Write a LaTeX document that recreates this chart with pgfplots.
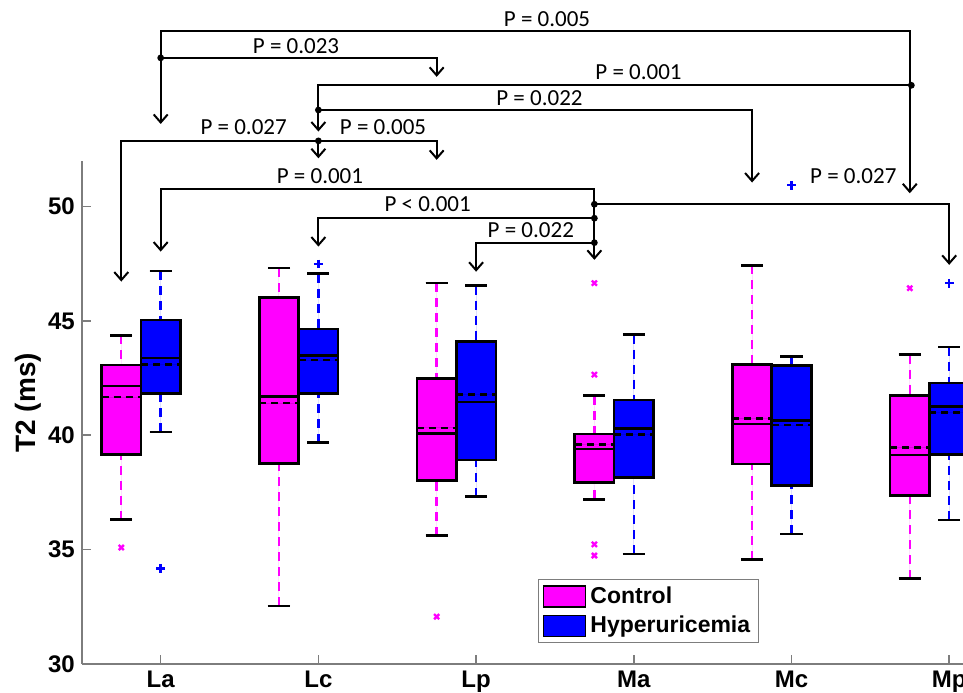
\documentclass[border=0pt]{standalone}
\usepackage{pgfplots}
\pgfplotsset{compat=1.18}
\usepgfplotslibrary{statistics}
\usetikzlibrary{arrows.meta}
\usepackage{fontspec}
\setmainfont{Liberation Sans}
\newfontfamily\pfont{Carlito}

\definecolor{ctrl}{RGB}{255,0,255}
\definecolor{hyper}{RGB}{0,0,255}
\definecolor{axgray}{RGB}{125,125,125}

\pgfplotsset{
  boxplot/draw direction=y,
  boxplot/box extend=0.25,
  boxplot/whisker extend=0.14,
  boxplot/every box/.style={draw=black,solid,line width=1.3pt},
  boxplot/every median/.style={draw=black,solid,line width=1.2pt},
  boxplot/draw/lower whisker/.code={%
    \draw[/pgfplots/boxplot/every whisker/.try]
      (boxplot cs:\pgfplotsboxplotvalue{lower whisker}) -- (boxplot cs:\pgfplotsboxplotvalue{lower quartile});
    \draw[black,solid,line width=1.2pt]
      (boxplot whisker cs:\pgfplotsboxplotvalue{lower whisker},0) -- (boxplot whisker cs:\pgfplotsboxplotvalue{lower whisker},1);
  },
  boxplot/draw/upper whisker/.code={%
    \draw[/pgfplots/boxplot/every whisker/.try]
      (boxplot cs:\pgfplotsboxplotvalue{upper whisker}) -- (boxplot cs:\pgfplotsboxplotvalue{upper quartile});
    \draw[black,solid,line width=1.2pt]
      (boxplot whisker cs:\pgfplotsboxplotvalue{upper whisker},0) -- (boxplot whisker cs:\pgfplotsboxplotvalue{upper whisker},1);
  },
  boxplot/draw/average/.code={%
    \draw[black,line width=1.2pt,dash pattern=on 3.5pt off 2.5pt]
      (boxplot box cs:\pgfplotsboxplotvalue{average},0) -- (boxplot box cs:\pgfplotsboxplotvalue{average},1);
  },
  cbox/.style={forget plot, fill=ctrl, draw=black,
    boxplot prepared={every whisker/.style={draw=ctrl,line width=1.2pt,dash pattern=on 4.5pt off 3pt}, #1}},
  hbox/.style={forget plot, fill=hyper, draw=black,
    boxplot prepared={every whisker/.style={draw=hyper,line width=1.2pt,dash pattern=on 4.5pt off 3pt}, #1}},
}

\tikzset{
  ann/.style={line width=1pt, -{Straight Barb[length=4pt,width=7pt]}},
  pv/.style={font=\pfont\fontsize{11.5}{13}\selectfont, inner sep=0pt},
  dot/.style={radius=1.7pt},
}

\begin{document}
\begin{tikzpicture}
\begin{axis}[
  scale only axis,
  width=473.1pt, height=251.6pt,
  xmin=0.5, xmax=6.5, ymin=30, ymax=52,
  clip=false,
  axis x line*=bottom, axis y line*=left,
  axis line style={axgray, line width=0.8pt},
  tick style={axgray, line width=0.8pt},
  tick align=inside,
  major tick length=4.5pt,
  xtick={1,2,3,4,5,6},
  xticklabels={La,Lc,Lp,Ma,Mc,Mp},
  ytick={30,35,40,45,50},
  /pgf/number format/assume math mode=true,
  ticklabel style={font=\bfseries\fontsize{12}{14}\selectfont},
  ylabel={T2 (ms)},
  ylabel style={font=\bfseries\fontsize{14}{16}\selectfont, at={(axis description cs:-0.0571,0.519)}, anchor=center},
  legend style={at={(axis description cs:0.4823,0.169)}, anchor=north west,
    draw=axgray, line width=0.6pt, font=\bfseries\fontsize{11.5}{13}\selectfont,
    inner xsep=2pt, inner ysep=1.5pt, row sep=1pt},
  legend cell align=left,
  legend image code/.code={\draw[#1,draw=black,line width=0.8pt] (0pt,-5.25pt) rectangle (21pt,5.25pt);},
]

% La
\addplot[cbox={draw position=0.75, lower whisker=36.31, lower quartile=39.15, median=42.16, upper quartile=43.07, upper whisker=44.37, average=41.66}] coordinates {};
\addplot[hbox={draw position=1, lower whisker=40.14, lower quartile=41.82, median=43.39, upper quartile=45.04, upper whisker=47.17, average=43.10}] coordinates {};
% Lc
\addplot[cbox={draw position=1.75, lower whisker=32.54, lower quartile=38.76, median=41.69, upper quartile=46.02, upper whisker=47.30, average=41.40}] coordinates {};
\addplot[hbox={draw position=2, lower whisker=39.68, lower quartile=41.82, median=43.48, upper quartile=44.65, upper whisker=47.07, average=43.29}] coordinates {};
% Lp
\addplot[cbox={draw position=2.75, lower whisker=35.61, lower quartile=38.02, median=40.07, upper quartile=42.49, upper whisker=46.66, average=40.33}] coordinates {};
\addplot[hbox={draw position=3, lower whisker=37.32, lower quartile=38.92, median=41.46, upper quartile=44.09, upper whisker=46.54, average=41.78}] coordinates {};
% Ma
\addplot[cbox={draw position=3.75, lower whisker=37.20, lower quartile=37.94, median=39.41, upper quartile=40.06, upper whisker=41.73, average=39.59}] coordinates {};
\addplot[hbox={draw position=4, lower whisker=34.81, lower quartile=38.15, median=40.29, upper quartile=41.54, upper whisker=44.40, average=40.04}] coordinates {};
% Mc
\addplot[cbox={draw position=4.75, lower whisker=34.56, lower quartile=38.75, median=40.49, upper quartile=43.10, upper whisker=47.43, average=40.73}] coordinates {};
\addplot[hbox={draw position=5, lower whisker=35.67, lower quartile=37.80, median=40.64, upper quartile=43.06, upper whisker=43.45, average=40.44}] coordinates {};
% Mp
\addplot[cbox={draw position=5.75, lower whisker=33.73, lower quartile=37.37, median=39.15, upper quartile=41.74, upper whisker=43.53, average=39.47}] coordinates {};
\addplot[hbox={draw position=6, lower whisker=36.30, lower quartile=39.17, median=41.25, upper quartile=42.29, upper whisker=43.87, average=41.00}] coordinates {};

% outliers
\addplot[forget plot, only marks, mark=x, mark size=1.8pt, draw=ctrl, line width=1.2pt]
  coordinates {(0.75,35.09) (2.75,32.07) (3.75,46.65) (3.75,42.65) (3.75,35.23) (3.75,34.74) (5.75,46.43)};
\addplot[forget plot, only marks, mark=+, mark size=2.2pt, draw=hyper, line width=1.2pt]
  coordinates {(1,34.18) (2,47.49) (5,50.93) (6,46.65)};

\addlegendimage{fill=ctrl}
\addlegendentry{Control}
\addlegendimage{fill=hyper}
\addlegendentry{Hyperuricemia}

% significance brackets
\draw[ann] (1,56.5) -- (1,57.68) -- (5.75,57.68) -- (5.75,50.58);
\draw[ann] (1,56.5) -- (1,53.61);
\draw[ann] (1,56.5) -- (2.75,56.5) -- (2.75,55.67);
\fill (1,56.5) circle[dot];
\node[pv] at (3.45,58.20) {P = 0.005};
\node[pv] at (1.858,57.02) {P = 0.023};

\draw[ann] (5.75,55.30) -- (2,55.30) -- (2,53.28);
\fill (5.76,55.30) circle[dot];
\draw[ann] (2,54.22) -- (4.75,54.22) -- (4.75,51.05);
\fill (2,54.22) circle[dot];
\node[pv] at (4.03,55.86) {P = 0.001};
\node[pv] at (3.402,54.73) {P = 0.022};

\draw[ann] (2,52.87) -- (0.75,52.87) -- (0.75,46.72);
\draw[ann] (2,52.87) -- (2.75,52.87) -- (2.75,52.04);
\draw[ann] (2,52.87) -- (2,52.11);
\fill (2,52.87) circle[dot];
\node[pv] at (1.526,53.46) {P = 0.027};
\node[pv] at (2.41,53.46) {P = 0.005};

\draw[ann] (3.75,48.42) -- (3.75,50.76) -- (1,50.76) -- (1,48.03);
\draw[ann] (3.75,48.42) -- (3.75,47.67);
\draw[ann] (3.75,50.10) -- (6,50.10) -- (6,47.45);
\draw[ann] (3.75,49.49) -- (2,49.49) -- (2,48.25);
\draw[ann] (3.75,48.42) -- (3,48.42) -- (3,47.15);
\fill (3.75,50.10) circle[dot];
\fill (3.75,49.49) circle[dot];
\fill (3.75,48.42) circle[dot];
\node[pv] at (2.01,51.31) {P = 0.001};
\node[pv] at (2.693,50.11) {P < 0.001};
\node[pv] at (3.347,48.96) {P = 0.022};
\node[pv] at (5.392,51.31) {P = 0.027};

\coordinate (bbsw) at (-0.019,28.732);
\coordinate (bbne) at (6.0875,59.03);
\end{axis}
\pgfresetboundingbox
\path[use as bounding box] (bbsw) rectangle (bbne);
\end{tikzpicture}
\end{document}
